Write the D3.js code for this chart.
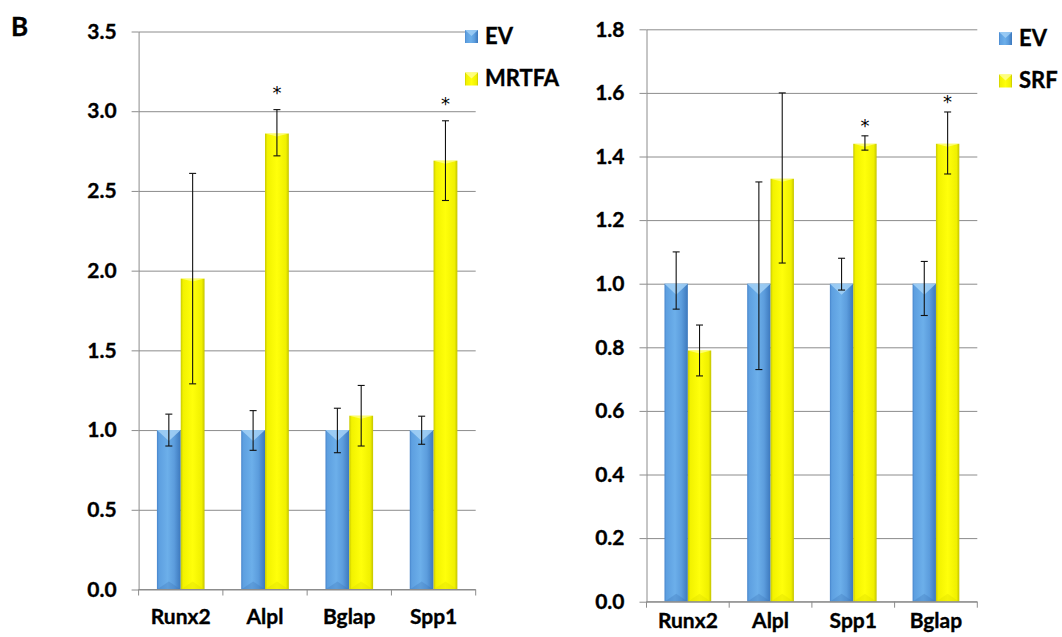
<!DOCTYPE html>
<html>
<head>
<meta charset="utf-8">
<script src="https://cdn.jsdelivr.net/npm/d3@7"></script>
<style>
  body { margin: 0; background: #fff; }
  svg { display: block; }
  text { font-family: Lato, "Open Sans", sans-serif; font-weight: 700; fill: #000; stroke: #000; stroke-width: 0.35px; }
  text.star { font-family: "DejaVu Sans", sans-serif; font-weight: 400; stroke: none; }
</style>
</head>
<body>
<svg id="fig" width="1062" height="637"></svg>
<script>
// ---- Panel 1: EV vs MRTFA ----
const genesA   = ["Runx2", "Alpl", "Bglap", "Spp1"];
const seriesA  = ["EV", "MRTFA"];
const evA      = [1.00, 1.00, 1.00, 1.00];
const evA_hi   = [0.10, 0.122, 0.137, 0.087];
const evA_lo   = [0.10, 0.127, 0.142, 0.089];
const mrtfa    = [1.95, 2.86, 1.09, 2.69];
const mrtfa_hi = [0.66, 0.15, 0.19, 0.25];
const mrtfa_lo = [0.66, 0.14, 0.19, 0.25];
const starsA   = ["", "*", "", "*"];
const ticksA   = [0.0, 0.5, 1.0, 1.5, 2.0, 2.5, 3.0, 3.5];

// ---- Panel 2: EV vs SRF ----
const genesB   = ["Runx2", "Alpl", "Spp1", "Bglap"];
const seriesB  = ["EV", "SRF"];
const evB      = [1.00, 1.00, 1.00, 1.00];
const evB_hi   = [0.10, 0.32, 0.08, 0.07];
const evB_lo   = [0.08, 0.27, 0.02, 0.10];
const srf      = [0.79, 1.33, 1.44, 1.44];
const srf_hi   = [0.08, 0.27, 0.025, 0.10];
const srf_lo   = [0.08, 0.265, 0.02, 0.095];
const starsB   = ["", "", "*", "*"];
const ticksB   = [0.0, 0.2, 0.4, 0.6, 0.8, 1.0, 1.2, 1.4, 1.6, 1.8];

const panelLetter = "B";

const svg = d3.select("#fig");
svg.append("rect").attr("width", 1062).attr("height", 637).attr("fill", "#fff");

// Bevelled-bar gradients
const defs = svg.append("defs");
function hGrad(id, stops) {
  const g = defs.append("linearGradient").attr("id", id)
    .attr("x1", "0%").attr("x2", "100%").attr("y1", "0%").attr("y2", "0%");
  stops.forEach(([o, c]) => g.append("stop").attr("offset", o).attr("stop-color", c));
}
hGrad("gBlue", [[0, "#4684cb"], [0.08, "#5d9fe0"], [0.45, "#6cafea"], [0.72, "#5c9ddd"], [1, "#3c78bd"]]);
hGrad("gYellow", [[0, "#c9c900"], [0.1, "#f2f200"], [0.5, "#ffff0a"], [0.88, "#f0f000"], [1, "#c4c400"]]);

const fills = { blue: "url(#gBlue)", yellow: "url(#gYellow)" };
const bevelTop = { blue: "#a3d1f6", yellow: "#ffff9a" };
const bevelBot = { blue: "#3b74b6", yellow: "#d8d800" };

function drawPanel(cfg) {
  const g = svg.append("g");
  const x0 = d3.scaleBand().domain(cfg.genes).range([cfg.left, cfg.right]).paddingInner(0).paddingOuter(0);
  const x1 = d3.scaleBand().domain(cfg.series).range([0, x0.bandwidth()]).paddingInner(0).paddingOuter(0.77);
  const y = d3.scaleLinear().domain([0, cfg.max]).range([cfg.bottom, cfg.top]);
  const plotW = cfg.right - cfg.left;

  // gridlines
  const grid = g.append("g").attr("transform", `translate(${cfg.left},0)`)
    .call(d3.axisLeft(y).tickValues(cfg.ticks).tickSize(-plotW).tickFormat(""));
  grid.select(".domain").remove();
  grid.selectAll("line").attr("stroke", "#8c8c8c").attr("stroke-width", 1);

  // y axis with tick labels
  const ya = g.append("g").attr("transform", `translate(${cfg.left},0)`)
    .call(d3.axisLeft(y).tickValues(cfg.ticks).tickSize(7).tickSizeOuter(0).tickPadding(15).tickFormat(d3.format(".1f")));
  ya.select(".domain").attr("stroke", "#8c8c8c");
  ya.selectAll("line").attr("stroke", "#8c8c8c");
  ya.selectAll("text").style("font-size", "21px").attr("fill", "#000");

  // bars
  const rows = cfg.genes.map((gene, i) => ({
    gene, star: cfg.stars[i],
    bars: cfg.series.map((s, j) => ({
      s, v: cfg.values[j][i], hi: cfg.values[j][i] + cfg.hi[j][i], lo: cfg.values[j][i] - cfg.lo[j][i],
      color: j === 0 ? "blue" : "yellow"
    }))
  }));

  const grp = g.selectAll(".grp").data(rows).join("g")
    .attr("transform", d => `translate(${x0(d.gene)},0)`);

  const bar = grp.selectAll(".bar").data(d => d.bars).join("g");
  bar.append("rect")
    .attr("x", d => x1(d.s)).attr("width", x1.bandwidth())
    .attr("y", d => y(d.v)).attr("height", d => y(0) - y(d.v))
    .attr("fill", d => fills[d.color]);
  // top bevel
  bar.append("path")
    .attr("d", d => {
      const a = x1(d.s), b = a + x1.bandwidth(), t = y(d.v), m = (a + b) / 2;
      const dep = d.color === "blue" ? 11 : 3;
      return `M${a},${t}L${b},${t}L${m},${t + dep}Z`;
    })
    .attr("fill", d => bevelTop[d.color]).attr("opacity", d => d.color === "blue" ? 0.85 : 0.7);
  // bottom bevel
  bar.append("path")
    .attr("d", d => {
      const a = x1(d.s), b = a + x1.bandwidth(), t = y(0), m = (a + b) / 2;
      return `M${a},${t}L${m},${t - 8}L${b},${t}Z`;
    })
    .attr("fill", d => bevelBot[d.color]).attr("opacity", 0.3);

  // error bars
  const eb = grp.selectAll(".eb").data(d => d.bars).join("g").attr("stroke", "#111").attr("stroke-width", 1.1);
  const cx = d => x1(d.s) + x1.bandwidth() / 2;
  eb.append("line").attr("x1", cx).attr("x2", cx).attr("y1", d => y(d.hi)).attr("y2", d => y(d.lo));
  eb.append("line").attr("x1", d => cx(d) - 3.5).attr("x2", d => cx(d) + 3.5).attr("y1", d => y(d.hi)).attr("y2", d => y(d.hi));
  eb.append("line").attr("x1", d => cx(d) - 3.5).attr("x2", d => cx(d) + 3.5).attr("y1", d => y(d.lo)).attr("y2", d => y(d.lo));

  // significance marks above the second series
  grp.filter(d => d.star).append("text").attr("class", "star")
    .attr("x", d => x1(cfg.series[1]) + x1.bandwidth() / 2)
    .attr("y", d => y(d.bars[1].hi) - cfg.starGap)
    .attr("text-anchor", "middle")
    .style("font-size", "18px")
    .text(d => d.star);

  // x axis line and category boundary ticks
  g.append("line").attr("x1", cfg.left).attr("x2", cfg.right).attr("y1", y(0)).attr("y2", y(0))
    .attr("stroke", "#8c8c8c");
  const bounds = cfg.genes.map(d => x0(d)).concat([x0(cfg.genes[cfg.genes.length - 1]) + x0.bandwidth()]);
  g.selectAll(".bt").data(bounds).join("line")
    .attr("x1", d => d).attr("x2", d => d).attr("y1", y(0)).attr("y2", y(0) + 6)
    .attr("stroke", "#8c8c8c");

  // category labels
  const xa = g.append("g").attr("transform", `translate(0,${y(0)})`)
    .call(d3.axisBottom(x0).tickSize(0).tickPadding(cfg.labelPad));
  xa.select(".domain").remove();
  xa.selectAll("text").style("font-size", "21px").attr("fill", "#000");

  // legend
  const lg = g.append("g").attr("transform", `translate(${cfg.legendX},${cfg.legendY})`);
  const items = lg.selectAll("g").data(cfg.series).join("g")
    .attr("transform", (d, i) => `translate(0,${i * 42.5})`);
  items.append("rect").attr("width", 13).attr("height", 13)
    .attr("fill", (d, i) => i === 0 ? fills.blue : fills.yellow);
  items.append("path").attr("d", "M0,0L13,0L6.5,6Z")
    .attr("fill", (d, i) => i === 0 ? bevelTop.blue : bevelTop.yellow).attr("opacity", 0.8);
  items.append("text").attr("x", 20).attr("y", 13.5).style("font-size", "22px").text(d => d);
}

drawPanel({
  genes: genesA, series: seriesA, values: [evA, mrtfa], hi: [evA_hi, mrtfa_hi], lo: [evA_lo, mrtfa_lo],
  stars: starsA, ticks: ticksA, max: 3.5,
  left: 138.6, right: 475.7, top: 31.5, bottom: 589.5,
  labelPad: 20, starGap: 11, legendX: 465, legendY: 30
});

drawPanel({
  genes: genesB, series: seriesB, values: [evB, srf], hi: [evB_hi, srf_hi], lo: [evB_lo, srf_lo],
  stars: starsB, ticks: ticksB, max: 1.8,
  left: 646.5, right: 977.3, top: 29.3, bottom: 601.7,
  labelPad: 11, starGap: 3.5, legendX: 999, legendY: 32
});

// panel letter
svg.append("text").attr("x", 11).attr("y", 36).style("font-size", "26px").text(panelLetter);
</script>
</body>
</html>
